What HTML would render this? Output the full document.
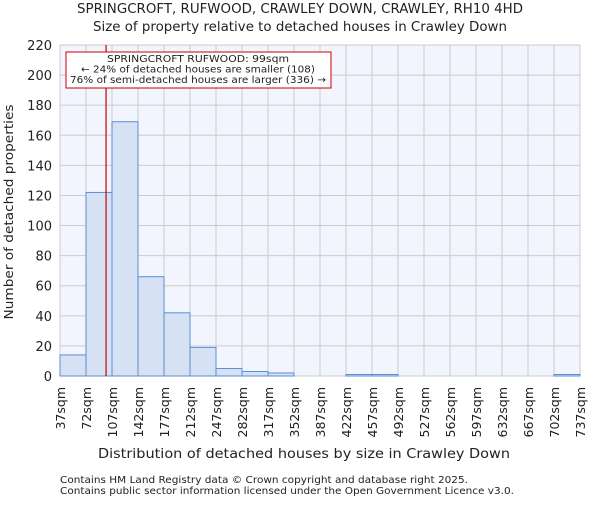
<!DOCTYPE html>
<html><head><meta charset="utf-8"><style>
body{margin:0;background:#fff;}
text{font-family:"DejaVu Sans","Liberation Sans",sans-serif;fill:#222;}
</style></head><body>
<svg id="c" width="600" height="500" xmlns="http://www.w3.org/2000/svg">
<text x="300" y="13" font-size="13" text-anchor="middle" textLength="446" lengthAdjust="spacingAndGlyphs">SPRINGCROFT, RUFWOOD, CRAWLEY DOWN, CRAWLEY, RH10 4HD</text>
<text x="300" y="31" font-size="13" text-anchor="middle" textLength="414" lengthAdjust="spacingAndGlyphs">Size of property relative to detached houses in Crawley Down</text>
<rect x="60" y="45" width="520" height="331" fill="#f2f5fd"/>
<g id="grid"></g><g id="bars"></g><g id="axes"></g>
<text x="304" y="458" font-size="13" text-anchor="middle" textLength="412" lengthAdjust="spacingAndGlyphs">Distribution of detached houses by size in Crawley Down</text>
<text transform="translate(13,212) rotate(-90)" font-size="12.5" text-anchor="middle" textLength="215" lengthAdjust="spacingAndGlyphs">Number of detached properties</text>
<text x="60" y="483" font-size="10" textLength="408" lengthAdjust="spacingAndGlyphs">Contains HM Land Registry data © Crown copyright and database right 2025.</text>
<text x="60" y="494" font-size="10" textLength="454" lengthAdjust="spacingAndGlyphs">Contains public sector information licensed under the Open Government Licence v3.0.</text>
</svg>
<script>
const binEdges=[37,72,107,142,177,212,247,282,317,352,387,422,457,492,527,562,597,632,667,702,737];
const counts=[14,122,169,66,42,19,5,3,2,0,0,1,1,0,0,0,0,0,0,1];
const yTicks=[0,20,40,60,80,100,120,140,160,180,200,220];
const markerSize=99;
const NS="http://www.w3.org/2000/svg";
const X0=60,X1=580,Y0=376,Y1=45;
const xs=v=>X0+(v-binEdges[0])/(binEdges[binEdges.length-1]-binEdges[0])*(X1-X0);
const ys=v=>Y0-v/220*(Y0-Y1);
function mk(t,a,p){const e=document.createElementNS(NS,t);for(const k in a)e.setAttribute(k,a[k]);p.appendChild(e);return e;}
const g=document.getElementById('grid'),b=document.getElementById('bars'),ax=document.getElementById('axes');
yTicks.forEach(v=>{
 const l=mk('line',{x1:X0,x2:X1,y1:ys(v),y2:ys(v),stroke:'#cccccc','stroke-width':1},g);
 
 
 const t=mk('text',{x:X0-8,y:ys(v)+5,'font-size':13,'text-anchor':'end'},ax);t.textContent=v;
 
 
});
binEdges.forEach(v=>{
 const l=mk('line',{x1:xs(v),x2:xs(v),y1:Y1,y2:Y0,stroke:'#cccccc','stroke-width':1},g);
 
 
 const t=mk('text',{transform:`translate(${xs(v)+5},387) rotate(-90)`,'font-size':12.5,'text-anchor':'end'},ax);t.textContent=v+'sqm';
 
 
});
counts.forEach((c,i)=>{
 if(c<=0)return;
 const r=mk('rect',{x:xs(binEdges[i]),y:ys(c),width:xs(binEdges[i+1])-xs(binEdges[i]),height:Y0-ys(c),fill:'#d6e2f3',stroke:'#5a8ed6','stroke-width':1},b);
 
 
});
const ml=mk('line',{x1:xs(markerSize),x2:xs(markerSize),y1:Y1,y2:Y0,stroke:'#cc0000','stroke-width':1.2},b);


const bx=mk('rect',{x:66,y:52,width:265,height:36,fill:'#fff',stroke:'#cc0000','stroke-width':1},b);


const lens=[182,234,256];
['SPRINGCROFT RUFWOOD: 99sqm','← 24% of detached houses are smaller (108)','76% of semi-detached houses are larger (336) →'].forEach((s,i)=>{
 const t=mk('text',{x:198,y:62+i*10.5,'font-size':10,'text-anchor':'middle',textLength:lens[i],lengthAdjust:'spacingAndGlyphs'},b);t.textContent=s;
 
 
});
</script>
</body></html>
